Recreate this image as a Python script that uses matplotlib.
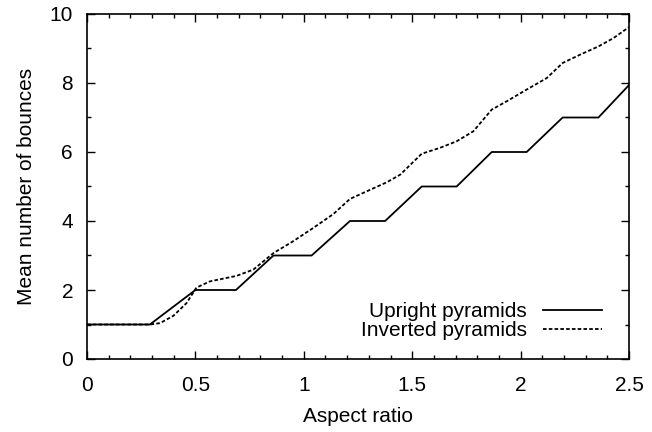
import numpy as np
import matplotlib
matplotlib.use("Agg")
import matplotlib.pyplot as plt
from matplotlib.ticker import MultipleLocator

plt.rcParams['font.family'] = ['Liberation Sans', 'DejaVu Sans']

# upright pyramids: stepped curve (aspect ratio, mean bounces)
up_x = [0.0, 0.29, 0.50, 0.687, 0.86, 1.036, 1.213, 1.375, 1.544, 1.705, 1.867, 2.028, 2.194, 2.359, 2.5]
up_y = [1.0, 1.0, 2.0, 2.0, 3.0, 3.0, 4.0, 4.0, 5.0, 5.0, 6.0, 6.0, 7.0, 7.0, 7.94]

# inverted pyramids
inv_x = [0.0, 0.29, 0.337, 0.398, 0.459, 0.505, 0.567, 0.69, 0.767, 0.86, 0.95, 1.044,
         1.136, 1.213, 1.29, 1.382, 1.444, 1.544, 1.628, 1.705, 1.782, 1.867, 1.936,
         2.028, 2.12, 2.194, 2.274, 2.359, 2.428, 2.5]
inv_y = [1.0, 1.0, 1.04, 1.25, 1.62, 2.07, 2.25, 2.41, 2.59, 3.07, 3.41, 3.80,
         4.2, 4.64, 4.86, 5.12, 5.34, 5.95, 6.12, 6.31, 6.60, 7.23, 7.47,
         7.81, 8.14, 8.58, 8.82, 9.06, 9.30, 9.62]

fs = 15

fig = plt.figure(figsize=(6.52, 4.32), dpi=100)
ax = fig.add_axes([87/652, 1-359/432, (629-87)/652, (359-14)/432])

ax.plot(up_x, up_y, color='black', lw=1.3, label='Upright pyramids')
ax.plot(inv_x, inv_y, color='black', lw=1.3, dashes=(2.0, 1.2), label='Inverted pyramids')

ax.set_xlim(0, 2.5)
ax.set_ylim(0, 10)
ax.xaxis.set_major_locator(MultipleLocator(0.5))
ax.xaxis.set_minor_locator(MultipleLocator(0.1))
ax.yaxis.set_major_locator(MultipleLocator(2))
ax.yaxis.set_minor_locator(MultipleLocator(1))
ax.xaxis.set_major_formatter(plt.FuncFormatter(lambda v, p: ('%g' % v)))
ax.tick_params(which='both', direction='in', top=True, right=True, labelsize=fs, width=1)
ax.tick_params(which='major', length=6)
ax.tick_params(axis='x', which='major', pad=12)
ax.tick_params(axis='y', which='major', pad=10)
ax.tick_params(which='minor', length=3)
for s in ax.spines.values():
    s.set_linewidth(1.2)

ax.set_xlabel('Aspect ratio', fontsize=fs, labelpad=9)
ax.set_ylabel('Mean number of bounces', fontsize=fs, labelpad=10)

ax.legend(loc='lower right', frameon=False, markerfirst=False, fontsize=fs,
          handlelength=2.85, handletextpad=0.75, labelspacing=0.0,
          bbox_to_anchor=(0.985, 0.0))

fig.savefig('out.png', dpi=100)
